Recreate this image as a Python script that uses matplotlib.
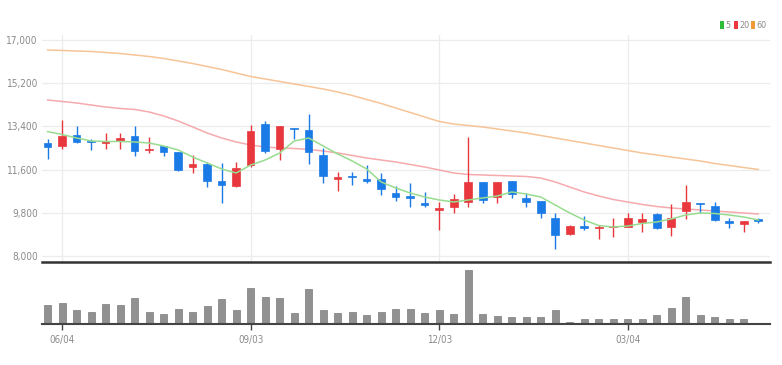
import matplotlib
matplotlib.use('Agg')
import matplotlib.pyplot as plt
import numpy as np
import pandas as pd
from matplotlib.patches import Rectangle

# ---- data (weekly candles) ----
weeks = pd.date_range('2018-05-28', periods=50, freq='W-MON')
opens = [12721, 12596, 13042, 12804, 12708, 12792, 12988, 12404, 12571, 12321,
         11708, 11821, 11142, 10917, 11792, 13487, 12446, 13346, 13250, 12208,
         11221, 11333, 11221, 11196, 10638, 10500, 10221, 9929, 10042, 10263,
         11096, 10471, 11125, 10429, 10292, 9571, 8904, 9263, 9179, 9196,
         9221, 9429, 9750, 9221, 9888, 10221, 10083, 9458, 9333, 9529]
highs = [12863, 13667, 13417, 12875, 13138, 13138, 13417, 12975, 12596, 12321,
         12208, 11929, 11863, 11929, 13458, 13638, 13417, 13346, 13904, 12488,
         11513, 11513, 11792, 11471, 10917, 11029, 10679, 10263, 10571, 12958,
         11096, 11096, 11125, 10613, 10292, 9779, 9292, 9679, 9292, 9596,
         9804, 9804, 9779, 10154, 10958, 10221, 10263, 9571, 9458, 9596]
lows = [12029, 12446, 12700, 12404, 12471, 12471, 12179, 12279, 12167, 11542,
        11446, 10862, 10196, 10862, 11721, 12279, 12000, 12863, 11821, 11029,
        10721, 10958, 11054, 10542, 10292, 10029, 10029, 9083, 9779, 10029,
        10221, 10221, 10404, 10054, 9571, 8279, 8875, 9083, 8696, 8804,
        9196, 9013, 9113, 8833, 9529, 9779, 9471, 9154, 9013, 9363]
closes = [12554, 13000, 12738, 12738, 12792, 12904, 12363, 12458, 12333, 11571,
          11821, 11125, 10958, 11654, 13208, 12392, 13417, 13279, 12346, 11333,
          11304, 11279, 11125, 10779, 10471, 10417, 10138, 10013, 10388, 11096,
          10333, 11096, 10583, 10238, 9779, 8875, 9263, 9154, 9221, 9250,
          9596, 9529, 9154, 9596, 10263, 10154, 9500, 9363, 9458, 9458]
volumes = [193000, 210000, 143000, 120000, 203000, 193000, 266000, 120000, 103000, 156000,
           120000, 183000, 250000, 140000, 366000, 273000, 266000, 110000, 350000, 140000,
           110000, 120000, 93000, 120000, 153000, 156000, 110000, 143000, 103000, 543000,
           103000, 86000, 76000, 70000, 76000, 143000, 26000, 56000, 56000, 56000,
           56000, 56000, 93000, 166000, 276000, 93000, 70000, 56000, 56000, 10000]
ma5 = [13180, 13063, 12917, 12792, 12771, 12771, 12750, 12709, 12584, 12417,
       12125, 11875, 11625, 11459, 11792, 12000, 12292, 12792, 12917, 12584,
       12250, 11959, 11625, 11084, 10834, 10625, 10459, 10334, 10250, 10334,
       10417, 10500, 10667, 10584, 10459, 10125, 9792, 9500, 9271, 9208,
       9250, 9354, 9417, 9542, 9709, 9792, 9771, 9709, 9625, 9500]
ma20 = [14500, 14438, 14375, 14292, 14209, 14146, 14105, 14000, 13834, 13625,
        13375, 13125, 12917, 12750, 12625, 12542, 12500, 12480, 12438, 12375,
        12292, 12188, 12084, 12000, 11917, 11813, 11709, 11584, 11459, 11396,
        11375, 11355, 11334, 11313, 11250, 11084, 10875, 10667, 10500, 10354,
        10250, 10146, 10063, 10000, 9959, 9917, 9875, 9834, 9792, 9750]
ma60 = [16584, 16563, 16542, 16521, 16480, 16438, 16375, 16313, 16230, 16125,
        16021, 15896, 15771, 15625, 15480, 15375, 15271, 15167, 15063, 14959,
        14834, 14688, 14521, 14355, 14167, 13980, 13792, 13605, 13500, 13438,
        13375, 13292, 13209, 13125, 13021, 12917, 12813, 12709, 12605, 12500,
        12396, 12292, 12209, 12125, 12042, 11959, 11854, 11771, 11688, 11604]
xtick_labels = ['06/04', '09/03', '12/03', '03/04']
ytick_values = [8000, 9800, 11600, 13400, 15200, 17000]
legend_labels = ['5', '20', '60']

# ---- styling ----
UP = '#e8383d'
DOWN = '#1a7ae6'
C_MA5 = '#98dc8f'
C_MA20 = '#f6aaad'
C_MA60 = '#f7c497'
LEG_COLORS = ['#2ebd3a', '#f0383c', '#f29a38']
TXT = '#8a8a8a'
FONT = dict(family='DejaVu Sans', fontstretch='condensed')

W, H = 782, 365
fig = plt.figure(figsize=(W / 100, H / 100), dpi=100)

x = np.arange(len(opens))
tick_pos = [list(weeks.strftime('%m/%d')).index(l) for l in xtick_labels]

px_per_unit = 216 / 9000.0
y_bottom = 8000 - 6 / px_per_unit
y_top = 17000 + 5 / px_per_unit
xlim = (-0.393, 49.81)

def fr(x0, y0, x1, y1):
    return [x0 / W, 1 - y1 / H, (x1 - x0) / W, (y1 - y0) / H]

ax = fig.add_axes(fr(42, 35, 770, 262))
ax.set_xlim(*xlim)
ax.set_ylim(y_bottom, y_top)

for yv in ytick_values:
    ax.axhline(yv, color='#ececec', lw=0.9, zorder=0)
for tp in tick_pos:
    ax.axvline(tp, color='#ececec', lw=0.9, zorder=0)

ax.plot(x, ma60, color=C_MA60, lw=1.1, zorder=1)
ax.plot(x, ma20, color=C_MA20, lw=1.1, zorder=1)
ax.plot(x, ma5, color=C_MA5, lw=1.1, zorder=3)

bw = 0.52
for i in range(len(opens)):
    o, h, l, c = opens[i], highs[i], lows[i], closes[i]
    col = UP if c >= o else DOWN
    ax.vlines(x[i], l, h, color=col, lw=1.0, zorder=2)
    lo_b = min(o, c)
    hgt = max(abs(c - o), 40)
    ax.add_patch(Rectangle((x[i] - bw / 2, lo_b), bw, hgt, facecolor=col,
                           edgecolor=col, lw=0.5, zorder=2))

ax.set_yticks(ytick_values)
ax.set_yticklabels([f'{v:,}' for v in ytick_values], color=TXT, fontsize=7.2, **FONT)
ax.tick_params(axis='y', length=0, pad=3)
ax.set_xticks([])
for s in ['top', 'right', 'left']:
    ax.spines[s].set_visible(False)
ax.spines['bottom'].set_color('#333333')
ax.spines['bottom'].set_linewidth(1.8)

# ---- volume panel ----
vax = fig.add_axes(fr(42, 266, 770, 324.3))
vax.set_xlim(*xlim)
vax.set_ylim(0, 583000)
vax.bar(x, volumes, width=0.5, color='#919191', edgecolor='#7c7c7c', lw=0.5)
for s in ['top', 'right', 'left']:
    vax.spines[s].set_visible(False)
vax.spines['bottom'].set_color('#444444')
vax.spines['bottom'].set_linewidth(1.5)
vax.set_yticks([])
vax.set_xticks(tick_pos)
vax.set_xticklabels(xtick_labels, color=TXT, fontsize=7, **FONT)
vax.tick_params(axis='x', length=4, width=1, color='#444444', pad=4)

# ---- legend ----
lx = [720, 734, 751]
for xx, col, lab in zip(lx, LEG_COLORS, legend_labels):
    fig.patches.append(Rectangle((xx / W, 1 - 28.5 / H), 3.5 / W, 7 / H,
                                 transform=fig.transFigure, facecolor=col,
                                 edgecolor='none'))
    fig.text((xx + 5) / W, 1 - 25 / H, lab, color=TXT, fontsize=6.5,
             va='center', ha='left', **FONT)

fig.savefig('out.png', dpi=100, facecolor='white')
